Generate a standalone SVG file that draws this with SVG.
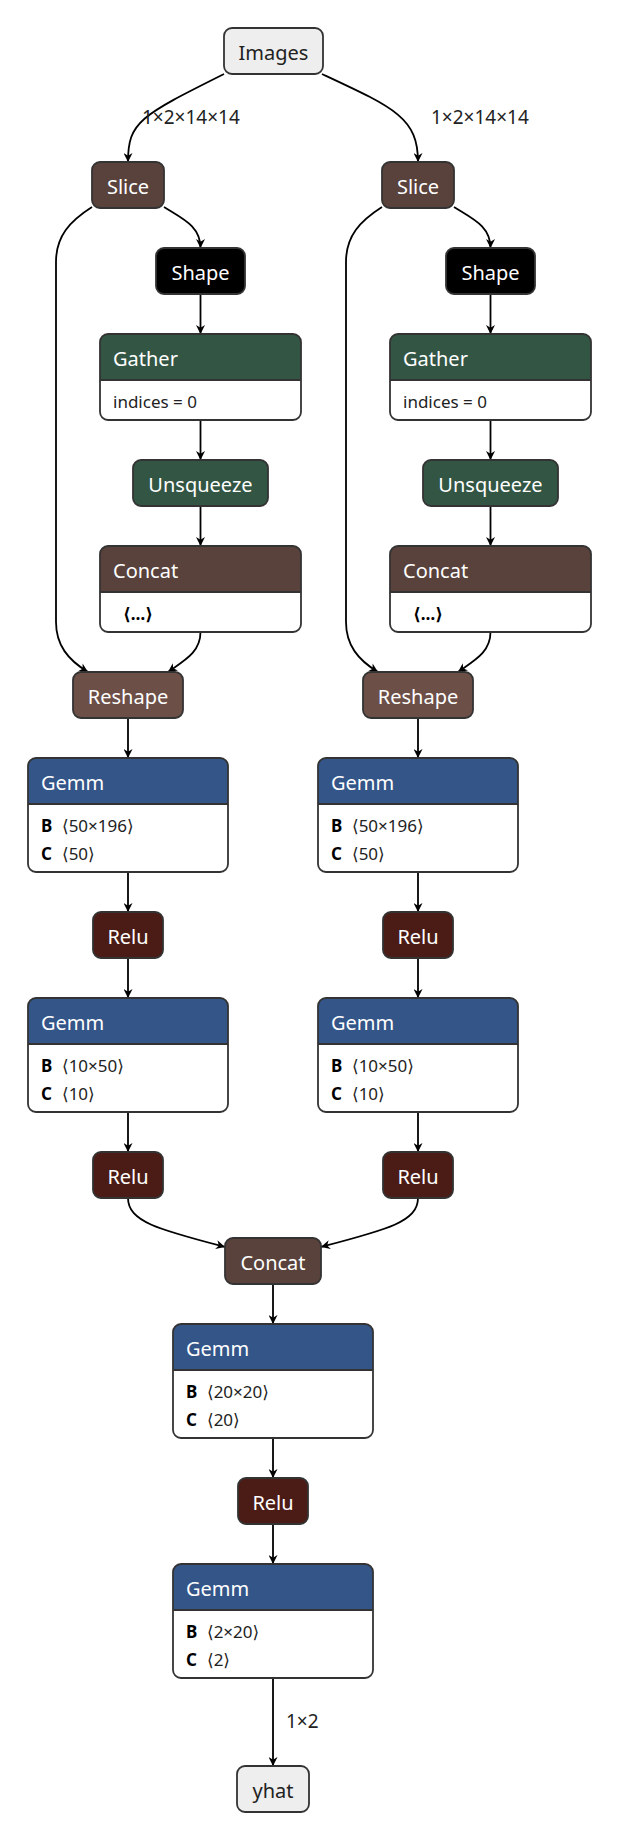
<svg xmlns="http://www.w3.org/2000/svg" width="620" height="1842" viewBox="0 0 620 1842">
<style>
text { font-family: "Noto Sans", "DejaVu Sans", sans-serif; }
.box { stroke: #333; stroke-width: 1.8; }
.frame { fill: none; stroke: #333; stroke-width: 1.8; }
.sep { stroke: #333; stroke-width: 1.8; }
.body { fill: #fff; stroke: none; }
.title { font-size: 20px; fill: #fff; }
.ctitle { font-size: 20px; fill: #fff; text-anchor: middle; }
.io { font-size: 20px; fill: #222; text-anchor: middle; }
.attr { font-size: 17px; fill: #222; }
.attrb { font-size: 17px; fill: #000; font-weight: bold; }
.elabel { font-size: 19px; fill: #222; }
.tensor { fill: #59423b; }
.shape { fill: #6c4f47; }
.transform { fill: #335544; }
.layer { fill: #335588; }
.act { fill: #4b1b16; }
.blk { fill: #000; }
.inout { fill: #eee; }
.edge { fill: none; stroke: #000; stroke-width: 1.8; marker-end: url(#arrow); }
</style>
<defs>
<marker id="arrow" viewBox="0 0 10 10" refX="10" refY="5" markerUnits="userSpaceOnUse" markerWidth="10" markerHeight="9" orient="auto">
<path d="M0,0 L10,5 L0,10 L3,5 z" fill="#000"/>
</marker>
</defs>
<rect width="620" height="1842" fill="#fff"/>

<g id="edges">
<path class="edge" d="M224,74 C140,116 128,122 128,162"/>
<path class="edge" d="M322,74 C395,108 418,118 418,162"/>
<path class="edge" d="M164,207 C183,219 200.5,226 200.5,248"/>
<path class="edge" d="M454,207 C473,219 490.5,226 490.5,248"/>
<path class="edge" d="M92,207 C70,221 56,236 56,262 L56,622 C56,645 68,660 88,672"/>
<path class="edge" d="M382,207 C360,221 346,236 346,262 L346,622 C346,645 358,660 378,672"/>
<path class="edge" d="M200.5,294 L200.5,334"/>
<path class="edge" d="M490.5,294 L490.5,334"/>
<path class="edge" d="M200.5,420 L200.5,460"/>
<path class="edge" d="M490.5,420 L490.5,460"/>
<path class="edge" d="M200.5,506 L200.5,546"/>
<path class="edge" d="M490.5,506 L490.5,546"/>
<path class="edge" d="M200.5,632 C200.5,652 185,660 168,672"/>
<path class="edge" d="M490.5,632 C490.5,652 475,660 458,672"/>
<path class="edge" d="M128,718 L128,758"/>
<path class="edge" d="M418,718 L418,758"/>
<path class="edge" d="M128,872 L128,912"/>
<path class="edge" d="M418,872 L418,912"/>
<path class="edge" d="M128,958 L128,998"/>
<path class="edge" d="M418,958 L418,998"/>
<path class="edge" d="M128,1112 L128,1152"/>
<path class="edge" d="M418,1112 L418,1152"/>
<path class="edge" d="M128,1198 C128,1222 160,1230 225,1247"/>
<path class="edge" d="M418,1198 C418,1222 386,1230 321,1247"/>
<path class="edge" d="M273,1284 L273,1324"/>
<path class="edge" d="M273,1438 L273,1478"/>
<path class="edge" d="M273,1524 L273,1564"/>
<path class="edge" d="M273,1678 L273,1766"/>
<text class="elabel" x="142" y="124">1×2×14×14</text>
<text class="elabel" x="431" y="124">1×2×14×14</text>
<text class="elabel" x="286" y="1728">1×2</text>
</g>

<g id="node-images">
<rect class="box inout" x="224" y="28" width="99" height="46" rx="8"/>
<text class="io" x="273.5" y="60">Images</text>
</g>

<g id="node-slice-l">
<rect class="box tensor" x="92" y="162" width="72" height="46" rx="8"/>
<text class="ctitle" x="128" y="194">Slice</text>
</g>
<g id="node-slice-r">
<rect class="box tensor" x="382" y="162" width="72" height="46" rx="8"/>
<text class="ctitle" x="418" y="194">Slice</text>
</g>

<g id="node-shape-l">
<rect class="box blk" x="156" y="248" width="89" height="46" rx="8"/>
<text class="ctitle" x="200.5" y="280">Shape</text>
</g>
<g id="node-shape-r">
<rect class="box blk" x="446" y="248" width="89" height="46" rx="8"/>
<text class="ctitle" x="490.5" y="280">Shape</text>
</g>

<g id="node-gather-l">
<rect class="body" x="100" y="334" width="201" height="86" rx="8"/>
<path class="transform" d="M100,380 V342 A8,8 0 0 1 108,334 H293 A8,8 0 0 1 301,342 V380 Z"/>
<line class="sep" x1="100" y1="380" x2="301" y2="380"/>
<rect class="frame" x="100" y="334" width="201" height="86" rx="8"/>
<text class="title" x="113" y="366">Gather</text>
<text class="attr" x="113" y="408">indices = 0</text>
</g>
<g id="node-gather-r">
<rect class="body" x="390" y="334" width="201" height="86" rx="8"/>
<path class="transform" d="M390,380 V342 A8,8 0 0 1 398,334 H583 A8,8 0 0 1 591,342 V380 Z"/>
<line class="sep" x1="390" y1="380" x2="591" y2="380"/>
<rect class="frame" x="390" y="334" width="201" height="86" rx="8"/>
<text class="title" x="403" y="366">Gather</text>
<text class="attr" x="403" y="408">indices = 0</text>
</g>

<g id="node-unsqueeze-l">
<rect class="box transform" x="133" y="460" width="135" height="46" rx="8"/>
<text class="ctitle" x="200.5" y="492">Unsqueeze</text>
</g>
<g id="node-unsqueeze-r">
<rect class="box transform" x="423" y="460" width="135" height="46" rx="8"/>
<text class="ctitle" x="490.5" y="492">Unsqueeze</text>
</g>

<g id="node-concat-l">
<rect class="body" x="100" y="546" width="201" height="86" rx="8"/>
<path class="tensor" d="M100,592 V554 A8,8 0 0 1 108,546 H293 A8,8 0 0 1 301,554 V592 Z"/>
<line class="sep" x1="100" y1="592" x2="301" y2="592"/>
<rect class="frame" x="100" y="546" width="201" height="86" rx="8"/>
<text class="title" x="113" y="578">Concat</text>
<text class="attrb" x="123" y="620">⟨…⟩</text>
</g>
<g id="node-concat-r">
<rect class="body" x="390" y="546" width="201" height="86" rx="8"/>
<path class="tensor" d="M390,592 V554 A8,8 0 0 1 398,546 H583 A8,8 0 0 1 591,554 V592 Z"/>
<line class="sep" x1="390" y1="592" x2="591" y2="592"/>
<rect class="frame" x="390" y="546" width="201" height="86" rx="8"/>
<text class="title" x="403" y="578">Concat</text>
<text class="attrb" x="413" y="620">⟨…⟩</text>
</g>

<g id="node-reshape-l">
<rect class="box shape" x="73" y="672" width="110" height="46" rx="8"/>
<text class="ctitle" x="128" y="704">Reshape</text>
</g>
<g id="node-reshape-r">
<rect class="box shape" x="363" y="672" width="110" height="46" rx="8"/>
<text class="ctitle" x="418" y="704">Reshape</text>
</g>

<g id="node-gemm1-l">
<rect class="body" x="28" y="758" width="200" height="114" rx="8"/>
<path class="layer" d="M28,804 V766 A8,8 0 0 1 36,758 H220 A8,8 0 0 1 228,766 V804 Z"/>
<line class="sep" x1="28" y1="804" x2="228" y2="804"/>
<rect class="frame" x="28" y="758" width="200" height="114" rx="8"/>
<text class="title" x="41" y="790">Gemm</text>
<text class="attrb" x="41" y="832">B</text><text class="attr" x="62" y="832">⟨50×196⟩</text>
<text class="attrb" x="41" y="860">C</text><text class="attr" x="62" y="860">⟨50⟩</text>
</g>
<g id="node-gemm1-r">
<rect class="body" x="318" y="758" width="200" height="114" rx="8"/>
<path class="layer" d="M318,804 V766 A8,8 0 0 1 326,758 H510 A8,8 0 0 1 518,766 V804 Z"/>
<line class="sep" x1="318" y1="804" x2="518" y2="804"/>
<rect class="frame" x="318" y="758" width="200" height="114" rx="8"/>
<text class="title" x="331" y="790">Gemm</text>
<text class="attrb" x="331" y="832">B</text><text class="attr" x="352" y="832">⟨50×196⟩</text>
<text class="attrb" x="331" y="860">C</text><text class="attr" x="352" y="860">⟨50⟩</text>
</g>

<g id="node-relu1-l">
<rect class="box act" x="93" y="912" width="70" height="46" rx="8"/>
<text class="ctitle" x="128" y="944">Relu</text>
</g>
<g id="node-relu1-r">
<rect class="box act" x="383" y="912" width="70" height="46" rx="8"/>
<text class="ctitle" x="418" y="944">Relu</text>
</g>

<g id="node-gemm2-l">
<rect class="body" x="28" y="998" width="200" height="114" rx="8"/>
<path class="layer" d="M28,1044 V1006 A8,8 0 0 1 36,998 H220 A8,8 0 0 1 228,1006 V1044 Z"/>
<line class="sep" x1="28" y1="1044" x2="228" y2="1044"/>
<rect class="frame" x="28" y="998" width="200" height="114" rx="8"/>
<text class="title" x="41" y="1030">Gemm</text>
<text class="attrb" x="41" y="1072">B</text><text class="attr" x="62" y="1072">⟨10×50⟩</text>
<text class="attrb" x="41" y="1100">C</text><text class="attr" x="62" y="1100">⟨10⟩</text>
</g>
<g id="node-gemm2-r">
<rect class="body" x="318" y="998" width="200" height="114" rx="8"/>
<path class="layer" d="M318,1044 V1006 A8,8 0 0 1 326,998 H510 A8,8 0 0 1 518,1006 V1044 Z"/>
<line class="sep" x1="318" y1="1044" x2="518" y2="1044"/>
<rect class="frame" x="318" y="998" width="200" height="114" rx="8"/>
<text class="title" x="331" y="1030">Gemm</text>
<text class="attrb" x="331" y="1072">B</text><text class="attr" x="352" y="1072">⟨10×50⟩</text>
<text class="attrb" x="331" y="1100">C</text><text class="attr" x="352" y="1100">⟨10⟩</text>
</g>

<g id="node-relu2-l">
<rect class="box act" x="93" y="1152" width="70" height="46" rx="8"/>
<text class="ctitle" x="128" y="1184">Relu</text>
</g>
<g id="node-relu2-r">
<rect class="box act" x="383" y="1152" width="70" height="46" rx="8"/>
<text class="ctitle" x="418" y="1184">Relu</text>
</g>

<g id="node-concat-m">
<rect class="box tensor" x="225" y="1238" width="96" height="46" rx="8"/>
<text class="ctitle" x="273" y="1270">Concat</text>
</g>

<g id="node-gemm3">
<rect class="body" x="173" y="1324" width="200" height="114" rx="8"/>
<path class="layer" d="M173,1370 V1332 A8,8 0 0 1 181,1324 H365 A8,8 0 0 1 373,1332 V1370 Z"/>
<line class="sep" x1="173" y1="1370" x2="373" y2="1370"/>
<rect class="frame" x="173" y="1324" width="200" height="114" rx="8"/>
<text class="title" x="186" y="1356">Gemm</text>
<text class="attrb" x="186" y="1398">B</text><text class="attr" x="207" y="1398">⟨20×20⟩</text>
<text class="attrb" x="186" y="1426">C</text><text class="attr" x="207" y="1426">⟨20⟩</text>
</g>

<g id="node-relu3">
<rect class="box act" x="238" y="1478" width="70" height="46" rx="8"/>
<text class="ctitle" x="273" y="1510">Relu</text>
</g>

<g id="node-gemm4">
<rect class="body" x="173" y="1564" width="200" height="114" rx="8"/>
<path class="layer" d="M173,1610 V1572 A8,8 0 0 1 181,1564 H365 A8,8 0 0 1 373,1572 V1610 Z"/>
<line class="sep" x1="173" y1="1610" x2="373" y2="1610"/>
<rect class="frame" x="173" y="1564" width="200" height="114" rx="8"/>
<text class="title" x="186" y="1596">Gemm</text>
<text class="attrb" x="186" y="1638">B</text><text class="attr" x="207" y="1638">⟨2×20⟩</text>
<text class="attrb" x="186" y="1666">C</text><text class="attr" x="207" y="1666">⟨2⟩</text>
</g>

<g id="node-yhat">
<rect class="box inout" x="237" y="1766" width="72" height="46" rx="8"/>
<text class="io" x="273" y="1798">yhat</text>
</g>
</svg>
